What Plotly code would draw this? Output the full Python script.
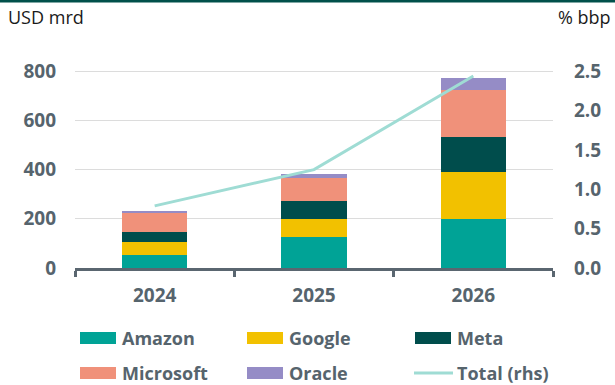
import plotly.graph_objects as go

years = ["2024", "2025", "2026"]
amazon = [52, 125, 198]
google = [53, 75, 191]
meta = [40, 72, 144]
microsoft = [77, 96, 191]
oracle = [9, 14, 50]
total_rhs = [0.79, 1.25, 2.44]

series_names = ["Amazon", "Google", "Meta", "Microsoft", "Oracle"]
series_values = [amazon, google, meta, microsoft, oracle]
colors = ["#00a396", "#f2c100", "#004d4c", "#f0917a", "#958cc6"]
line_color = "#9fdcd4"
text_color = "#56646d"
axis_color = "#5a6670"

W, H = 615, 385
ML, MR, MT, MB = 75, 62, 59, 117
PW, PH = W - ML - MR, H - MT - MB
FONT = "Open Sans"


def px(x):
    return (x - ML) / PW


def py(y):
    return (H - MB - y) / PH


fig = go.Figure()
for name, vals, c in zip(series_names, series_values, colors):
    fig.add_trace(go.Bar(x=years, y=vals, name=name, marker=dict(color=c, line=dict(width=0)),
                         showlegend=False))
fig.add_trace(go.Scatter(x=years, y=total_rhs, name="Total (rhs)", mode="lines",
                         line=dict(color=line_color, width=3), yaxis="y2", showlegend=False))

shapes = []
annotations = []
# top border
shapes.append(dict(type="rect", xref="paper", yref="paper", x0=px(0), x1=px(W), y0=py(2.5), y1=py(0),
                   fillcolor="#00504a", line=dict(width=0), layer="above"))

legend_items = [("Amazon", colors[0], 0, 0, "bar"), ("Google", colors[1], 1, 0, "bar"),
                ("Meta", colors[2], 2, 0, "bar"), ("Microsoft", colors[3], 0, 1, "bar"),
                ("Oracle", colors[4], 1, 1, "bar"), ("Total (rhs)", line_color, 2, 1, "line")]
col_x = [80, 247, 415]
row_y = [338, 373]
for label, c, ci, ri, kind in legend_items:
    x0 = col_x[ci]
    yc = row_y[ri]
    if kind == "bar":
        shapes.append(dict(type="rect", xref="paper", yref="paper", x0=px(x0), x1=px(x0 + 36),
                           y0=py(yc + 6), y1=py(yc - 6), fillcolor=c, line=dict(width=0)))
    else:
        shapes.append(dict(type="line", xref="paper", yref="paper", x0=px(x0 - 1), x1=px(x0 + 38),
                           y0=py(yc), y1=py(yc), line=dict(color=c, width=3)))
    annotations.append(dict(text=label, xref="paper", yref="paper", x=px(x0 + 40), y=py(yc),
                            xanchor="left", yanchor="middle", showarrow=False,
                            font=dict(family=FONT, size=18, color=text_color, weight="bold")))

annotations.append(dict(text="USD mrd", xref="paper", yref="paper", x=px(6), y=py(17),
                        xanchor="left", yanchor="middle", showarrow=False,
                        font=dict(family=FONT, size=18, color="#1a1a1a")))
annotations.append(dict(text="% bbp", xref="paper", yref="paper", x=px(613), y=py(17),
                        xanchor="right", yanchor="middle", showarrow=False,
                        font=dict(family=FONT, size=18, color="#1a1a1a")))

fig.update_layout(
    width=W, height=H,
    margin=dict(l=ML, r=MR, t=MT, b=MB, pad=0),
    barmode="stack", bargap=0.59,
    plot_bgcolor="white", paper_bgcolor="white",
    font=dict(family=FONT, color=text_color),
    showlegend=False,
    xaxis=dict(type="category", showline=True, linecolor=axis_color, linewidth=3,
               ticks="outside", tickson="boundaries", ticklen=6, tickwidth=3, tickcolor=axis_color,
               tickfont=dict(family=FONT, size=19, color=text_color, weight="bold"),
               showgrid=False, ticklabelstandoff=8),
    yaxis=dict(range=[0, 850], tickvals=[0, 200, 400, 600, 800], showgrid=True, gridcolor="#dcdcdc",
               gridwidth=1, zeroline=False, showline=False, ticks="",
               tickfont=dict(family=FONT, size=19, color=text_color, weight="bold"),
               ticklabelstandoff=18),
    yaxis2=dict(range=[0, 850 / 320], overlaying="y", side="right", tickvals=[0, 0.5, 1, 1.5, 2, 2.5],
                ticktext=["0.0", "0.5", "1.0", "1.5", "2.0", "2.5"], showgrid=False, zeroline=False,
                showline=False, ticks="",
                tickfont=dict(family=FONT, size=19, color=text_color, weight="bold"),
                ticklabelstandoff=20),
    shapes=shapes, annotations=annotations,
)

fig.write_html("out.html")
